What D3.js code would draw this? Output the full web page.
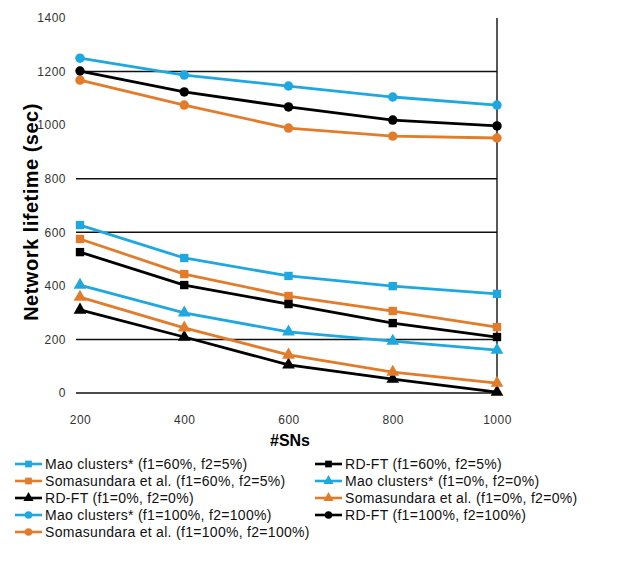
<!DOCTYPE html>
<html>
<head>
<meta charset="utf-8">
<script src="https://d3js.org/d3.v7.min.js"></script>
<style>
  body { margin: 0; background: #fff; }
  svg { font-family: "Liberation Sans", Arial, sans-serif; }
</style>
</head>
<body>
<svg id="drawing_region"></svg>
<script>
const xValues = [200, 400, 600, 800, 1000];
const yTicks = [0, 200, 400, 600, 800, 1000, 1200, 1400];
const gridValues = [0, 200, 600, 800, 1200];

const seriesNames = [
    "Mao clusters* (f1=60%, f2=5%)",
    "Somasundara et al. (f1=60%, f2=5%)",
    "RD-FT (f1=0%, f2=0%)",
    "Mao clusters* (f1=100%, f2=100%)",
    "Somasundara et al. (f1=100%, f2=100%)",
    "RD-FT (f1=60%, f2=5%)",
    "Mao clusters* (f1=0%, f2=0%)",
    "Somasundara et al. (f1=0%, f2=0%)",
    "RD-FT (f1=100%, f2=100%)"
];
const seriesColors = ["cyan", "orange", "black", "cyan", "orange", "black", "cyan", "orange", "black"];
const seriesShapes = ["square", "square", "triangle", "circle", "circle", "square", "triangle", "triangle", "circle"];

const maoSq = [627, 504, 437, 399, 370];
const somaSq = [575, 444, 362, 306, 246];
const rdftTri = [310, 209, 105, 52, 3];
const maoCirc = [1250, 1187, 1146, 1105, 1075];
const somaCirc = [1168, 1075, 989, 959, 952];
const rdftSq = [526, 403, 332, 261, 209];
const maoTri = [403, 299, 228, 194, 160];
const somaTri = [358, 243, 142, 78, 37];
const rdftCirc = [1202, 1124, 1068, 1019, 997];

const seriesValues = [maoSq, somaSq, rdftTri, maoCirc, somaCirc, rdftSq, maoTri, somaTri, rdftCirc];

const colorMap = { cyan: "#1fa8df", orange: "#e27c2a", black: "#000000" };
const shapeMap = { square: d3.symbolSquare, circle: d3.symbolCircle, triangle: d3.symbolTriangle };

const width = 627, height = 578;

const svg = d3.select('#drawing_region')
    .attr('width', width)
    .attr('height', height);

const xscale = d3.scaleLinear().domain([200, 1000]).range([80, 497]);
const yscale = d3.scaleLinear().domain([0, 1400]).range([393, 18]);

// grid lines
svg.append('g')
    .selectAll('line')
    .data(gridValues)
    .join('line')
    .attr('x1', 76)
    .attr('x2', 497)
    .attr('y1', d => yscale(d))
    .attr('y2', d => yscale(d))
    .attr('stroke', '#111')
    .attr('stroke-width', 1.4);

// right border line
svg.append('line')
    .attr('x1', 497).attr('x2', 497)
    .attr('y1', yscale(1400)).attr('y2', yscale(0))
    .attr('stroke', '#111')
    .attr('stroke-width', 1.4);

// y axis
const yaxis = d3.axisLeft(yscale).tickValues(yTicks).tickSize(0).tickPadding(10).tickFormat(d3.format('d'));
const yg = svg.append('g')
    .attr('transform', 'translate(76,0)')
    .call(yaxis);
yg.select('.domain').remove();
yg.selectAll('text').style('font-size', '12px').style('letter-spacing', '0.5px').attr('fill', '#333');

// x axis
const xaxis = d3.axisBottom(xscale).tickValues(xValues).tickSize(0).tickPadding(22).tickFormat(d3.format('d'));
const xg = svg.append('g')
    .attr('transform', 'translate(0,' + yscale(0) + ')')
    .call(xaxis);
xg.select('.domain').remove();
xg.selectAll('text').style('font-size', '12px').style('letter-spacing', '0.5px').attr('fill', '#333');

// axis titles
svg.append('text')
    .attr('x', 290)
    .attr('y', 446)
    .attr('text-anchor', 'middle')
    .style('font-size', '16px')
    .style('font-weight', 'bold')
    .text('#SNs');

svg.append('text')
    .attr('transform', 'translate(38,212) rotate(-90)')
    .attr('text-anchor', 'middle')
    .style('font-size', '20px')
    .style('font-weight', 'bold')
    .style('letter-spacing', '0.5px')
    .text('Network lifetime (sec)');

// lines
const line = d3.line()
    .x((d, i) => xscale(xValues[i]))
    .y(d => yscale(d));

const plot = svg.append('g');

seriesValues.forEach((vals, k) => {
    const col = colorMap[seriesColors[k]];
    plot.append('path')
        .attr('d', line(vals))
        .attr('fill', 'none')
        .attr('stroke', col)
        .attr('stroke-width', 2.8);
    plot.selectAll('.m' + k)
        .data(vals)
        .join('path')
        .attr('class', 'm' + k)
        .attr('transform', (d, i) => `translate(${xscale(xValues[i])},${yscale(d)})`)
        .attr('d', d3.symbol().type(shapeMap[seriesShapes[k]]).size(70))
        .attr('fill', col);
});

// legend
const legend = svg.append('g');
seriesNames.forEach((name, k) => {
    const col = k < 5 ? 0 : 1;
    const row = k < 5 ? k : k - 5;
    const lx = col === 0 ? 15 : 315;
    const ly = 464 + row * 17;
    const c = colorMap[seriesColors[k]];
    const g = legend.append('g').attr('transform', `translate(${lx},${ly})`);
    g.append('line')
        .attr('x1', 0).attr('x2', 27)
        .attr('y1', 0).attr('y2', 0)
        .attr('stroke', c)
        .attr('stroke-width', 2.6);
    g.append('path')
        .attr('transform', 'translate(13.5,0)')
        .attr('d', d3.symbol().type(shapeMap[seriesShapes[k]]).size(45))
        .attr('fill', c);
    g.append('text')
        .attr('x', 30)
        .attr('y', 0)
        .attr('dy', '0.35em')
        .style('font-size', '14px')
        .style('letter-spacing', '0.3px')
        .attr('fill', '#111')
        .text(name);
});
</script>
</body>
</html>
